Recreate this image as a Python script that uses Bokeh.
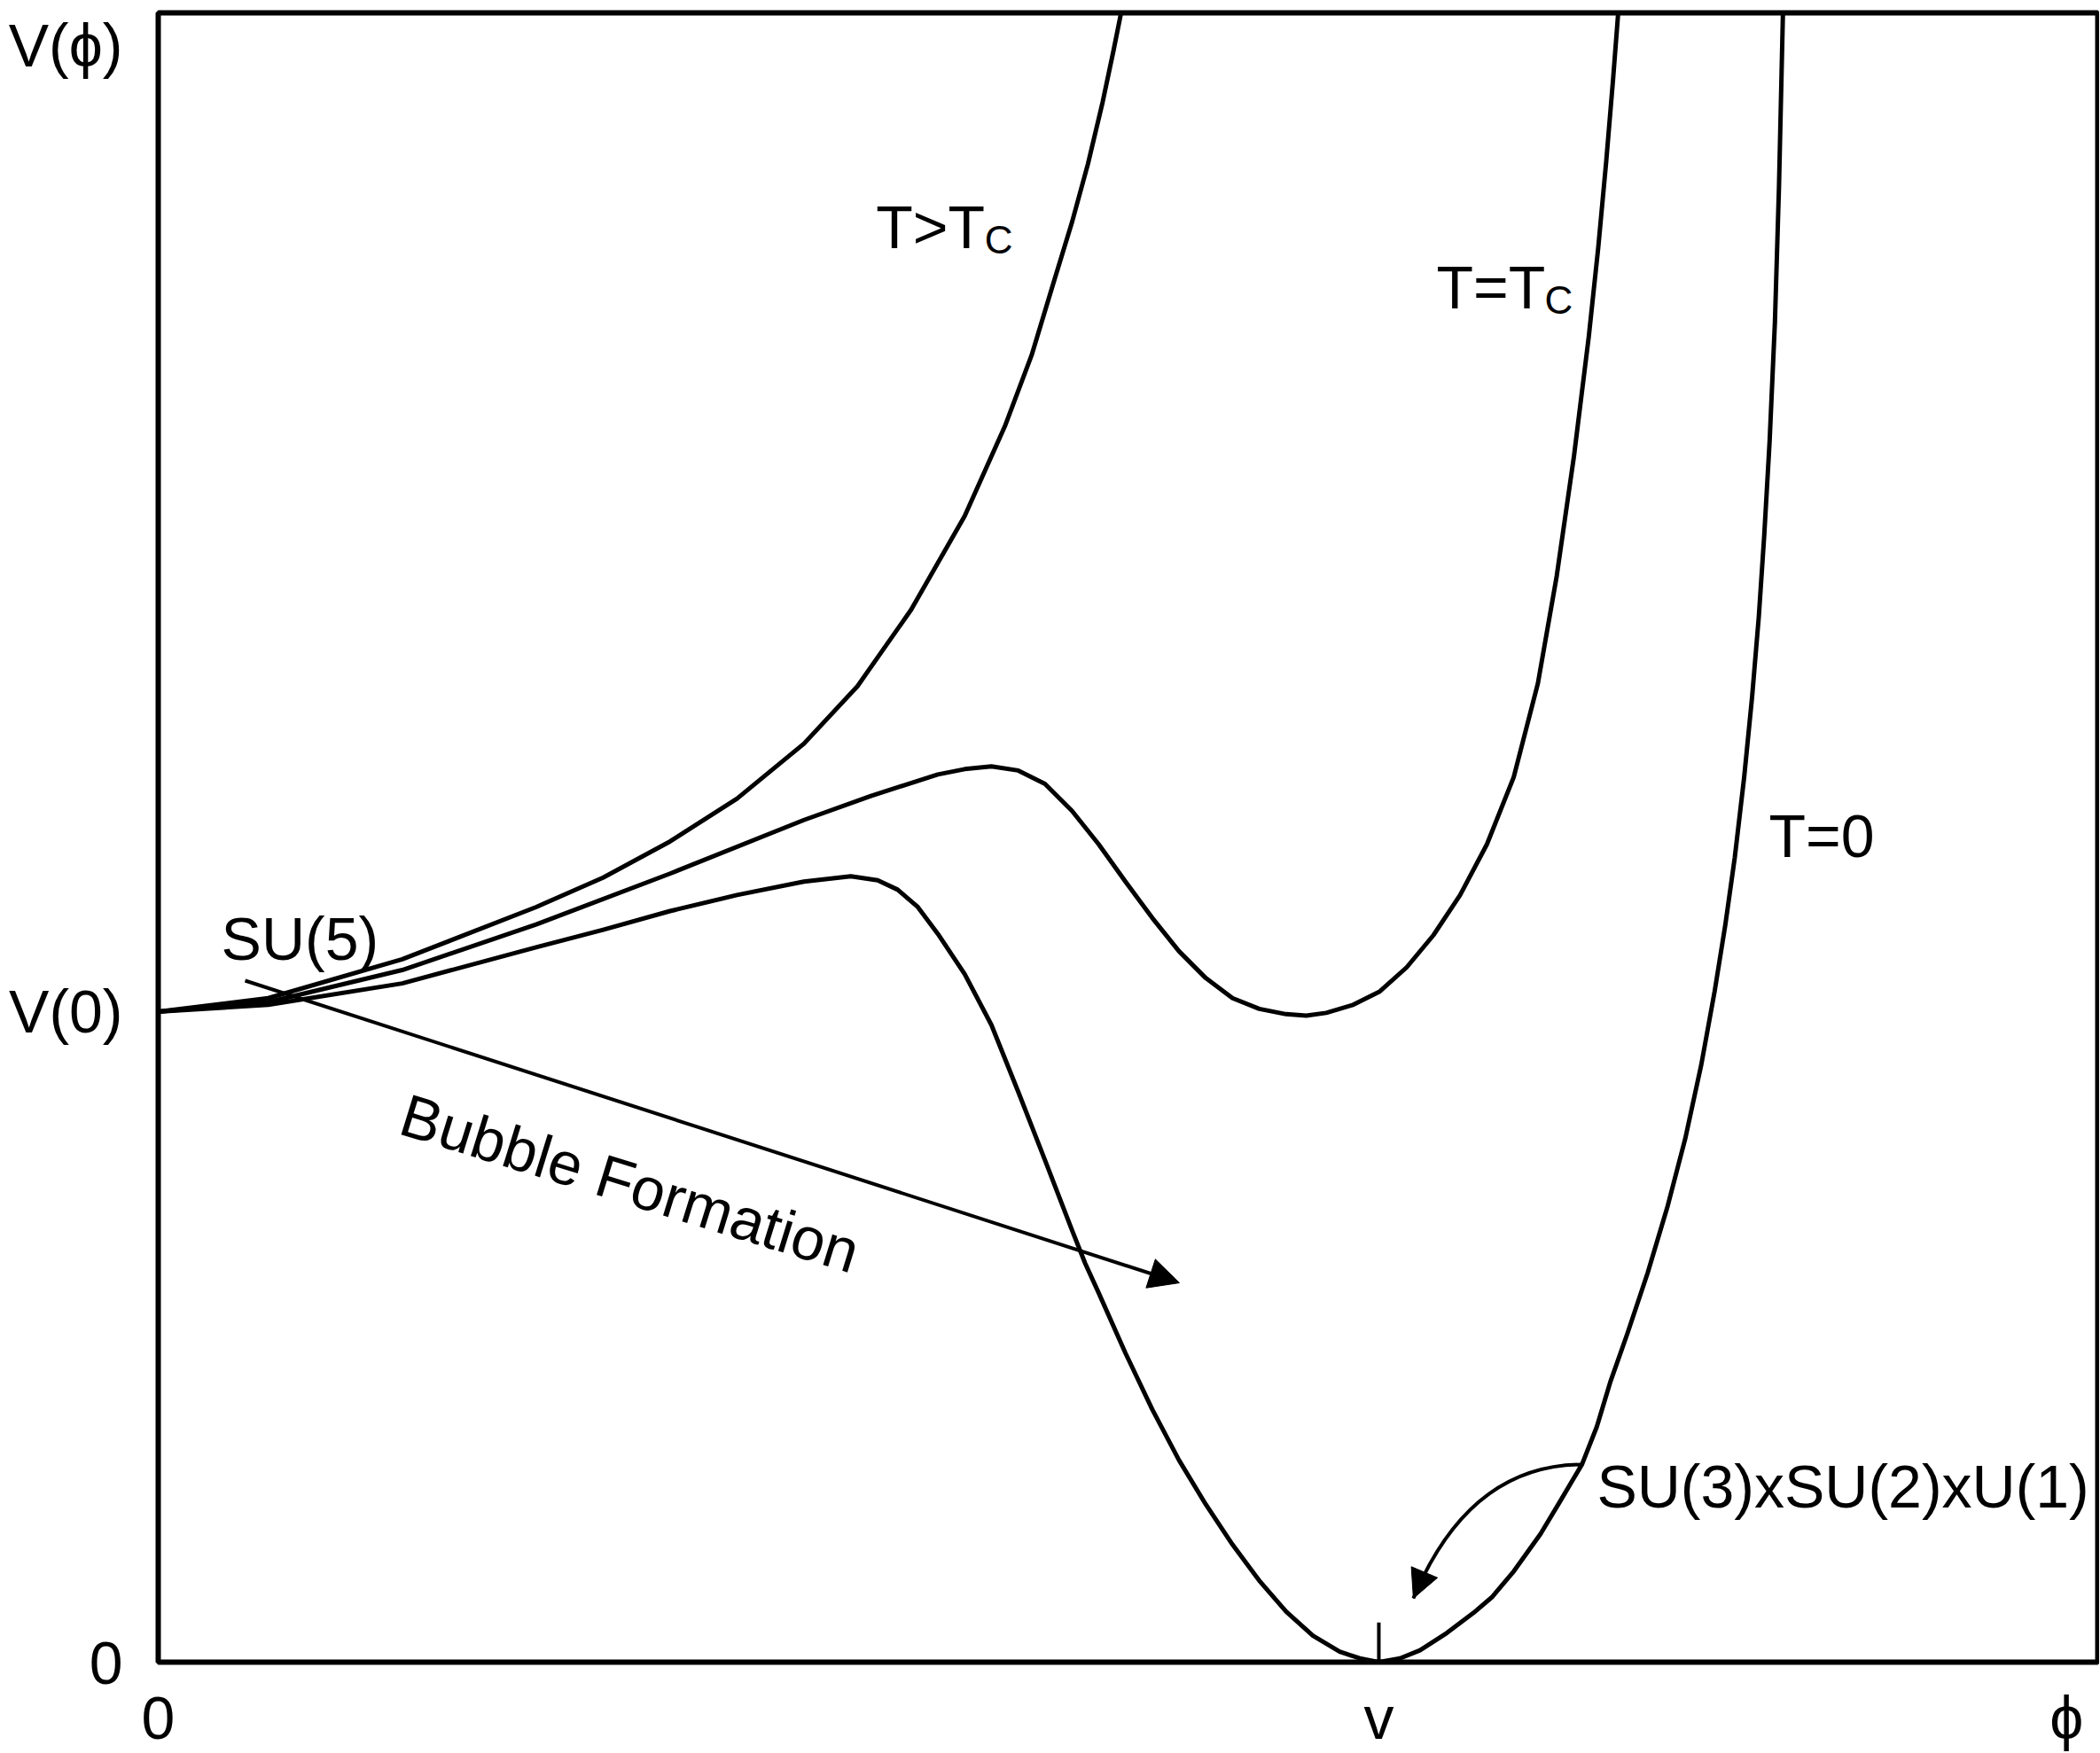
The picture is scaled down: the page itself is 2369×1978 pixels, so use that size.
from bokeh.plotting import figure
from bokeh.models import Range1d, Label, Arrow, NormalHead, FixedTicker
from bokeh.embed import file_html
from bokeh.resources import INLINE

# ---- data: phi in units of v, V in units of V(0) ----
phi_t0 = [0.0000, 0.0902, 0.1999, 0.3096, 0.3645, 0.4193, 0.4742, 0.5290, 0.5674, 0.5894,
          0.6058, 0.6223, 0.6387, 0.6607, 0.6826, 0.7046, 0.7265, 0.7485, 0.7594, 0.7704,
          0.7924, 0.8143, 0.8363, 0.8582, 0.8801, 0.9021, 0.9240, 0.9460, 0.9679, 0.9844,
          1.0000, 1.0173, 1.0337, 1.0557, 1.0776, 1.0930, 1.1105, 1.1325, 1.1490, 1.1665,
          1.1786, 1.1895, 1.2038, 1.2203, 1.2367, 1.2510, 1.2641, 1.2751, 1.2839, 1.2916,
          1.2993, 1.3058, 1.3113, 1.3157, 1.3201, 1.3245, 1.3278, 1.3311]
V_t0 = [1.0000, 1.0105, 1.0434, 1.0990, 1.1258, 1.1546, 1.1793, 1.1999, 1.2081, 1.2019,
        1.1875, 1.1608, 1.1196, 1.0578, 0.9796, 0.8767, 0.7717, 0.6646, 0.6131, 0.5679,
        0.4752, 0.3887, 0.3105, 0.2426, 0.1808, 0.1252, 0.0779, 0.0408, 0.0161, 0.0058,
        0.0000, 0.0058, 0.0182, 0.0449, 0.0758, 0.1005, 0.1396, 0.1973, 0.2488, 0.3043,
        0.3620, 0.4299, 0.5061, 0.5987, 0.7017, 0.8046, 0.9178, 1.0311, 1.1340, 1.2369,
        1.3605, 1.4840, 1.6075, 1.7310, 1.8751, 2.0604, 2.2663, 2.5380]

phi_tc = [0.0000, 0.0902, 0.1999, 0.3096, 0.4193, 0.5290, 0.5839, 0.6387, 0.6607, 0.6826,
          0.7046, 0.7265, 0.7485, 0.7704, 0.7924, 0.8143, 0.8363, 0.8582, 0.8801, 0.9021,
          0.9240, 0.9405, 0.9569, 0.9789, 1.0008, 1.0228, 1.0447, 1.0666, 1.0886, 1.1105,
          1.1303, 1.1457, 1.1599, 1.1720, 1.1797, 1.1863, 1.1918, 1.1962]
V_tc = [1.0000, 1.0146, 1.0640, 1.1340, 1.2122, 1.2946, 1.3316, 1.3646, 1.3728, 1.3769,
        1.3707, 1.3502, 1.3090, 1.2575, 1.1999, 1.1443, 1.0928, 1.0516, 1.0208, 1.0043,
        0.9961, 0.9940, 0.9981, 1.0105, 1.0311, 1.0681, 1.1175, 1.1793, 1.2575, 1.3605,
        1.5046, 1.6693, 1.8545, 2.0378, 2.1736, 2.3075, 2.4310, 2.5380]

phi_hot = [0.0000, 0.0902, 0.1999, 0.3096, 0.3645, 0.4193, 0.4742, 0.5290, 0.5729, 0.6168,
           0.6607, 0.6936, 0.7155, 0.7331, 0.7485, 0.7617, 0.7737, 0.7825, 0.7891]
V_hot = [1.0000, 1.0208, 1.0805, 1.1608, 1.2061, 1.2616, 1.3275, 1.4119, 1.5004, 1.6178,
         1.7619, 1.8998, 2.0089, 2.1181, 2.2128, 2.3033, 2.3980, 2.4763, 2.5380]

V0 = 1.0          # V(0)
VEV = 1.0         # v
x_ticks = [0.0, VEV, 1.5635]
x_tick_labels = ["0", "v", "ϕ"]
y_ticks = [0.0, V0, 2.486]
y_tick_labels = ["0", "V(0)", "V(ϕ)"]
curve_labels = ["T>T", "T=T", "T=0"]

FONT = "Liberation Sans"
FS = "68px"
SUB = "44px"

p = figure(width=2368, height=1978, output_backend="svg", toolbar_location=None,
           x_range=Range1d(0, 1.5890), y_range=Range1d(0, 2.5354),
           min_border_left=178, min_border_right=2, min_border_top=14,
           min_border_bottom=103)
p.grid.visible = False
p.outline_line_color = "black"
p.outline_line_width = 6
p.background_fill_color = "white"
p.border_fill_color = "white"

for ax, ticks, labels, standoff in ((p.xaxis[0], x_ticks, x_tick_labels, 24),
                                    (p.yaxis[0], y_ticks, y_tick_labels, 40)):
    ax.ticker = FixedTicker(ticks=ticks)
    ax.major_label_overrides = {t: s for t, s in zip(ticks, labels)}
    ax.axis_line_color = None
    ax.major_tick_line_color = None
    ax.minor_tick_line_color = None
    ax.major_tick_in = 0
    ax.major_tick_out = 0
    ax.minor_tick_in = 0
    ax.minor_tick_out = 0
    ax.major_label_standoff = standoff
    ax.major_label_text_font = FONT
    ax.major_label_text_font_size = FS
    ax.major_label_text_color = "black"

lw = 5
p.line(phi_hot, V_hot, line_color="black", line_width=lw, line_join="round")
p.line(phi_tc, V_tc, line_color="black", line_width=lw, line_join="round")
p.line(phi_t0, V_t0, line_color="black", line_width=lw, line_join="round")

# tick mark at v
p.segment(x0=[VEV], y0=[0], x1=[VEV], y1=[0.061], line_color="black", line_width=4)

def lab(x, y, t, size=FS, align="left", angle=0.0):
    p.add_layout(Label(x=x, y=y, text=t, text_font=FONT, text_font_size=size,
                       text_align=align, text_baseline="alphabetic",
                       text_color="black", angle=angle))

# curve labels
lab(0.588, 2.206, curve_labels[0])
lab(0.677, 2.187, "C", size=SUB)
lab(1.0472, 2.1144, curve_labels[1])
lab(1.1358, 2.094, "C", size=SUB)
lab(1.3195, 1.2698, curve_labels[2])

lab(0.0516, 1.112, "SU(5)")
lab(1.1786, 0.2698, "SU(3)xSU(2)xU(1)")
lab(0.2004, 0.8447, "Bubble Formation", angle=-0.30)

# bubble formation arrow
p.add_layout(Arrow(end=NormalHead(size=34, fill_color="black", line_color="black", line_width=1),
                   x_start=0.0712, y_start=1.0477, x_end=0.8366, y_end=0.5831,
                   line_color="black", line_width=4))

# curved arrow to true vacuum
p.quadratic(x0=[1.1670], y0=[0.3038], x1=[1.0283], y1=[0.0981],
            cx=[1.0741], cy=[0.3038], line_color="black", line_width=4)
p.add_layout(Arrow(end=NormalHead(size=32, fill_color="black", line_color="black", line_width=1),
                   x_start=1.0368, y_start=0.1359, x_end=1.0283, y_end=0.0981,
                   line_color="black", line_width=4))

open("out.html", "w").write(file_html(p, INLINE))
